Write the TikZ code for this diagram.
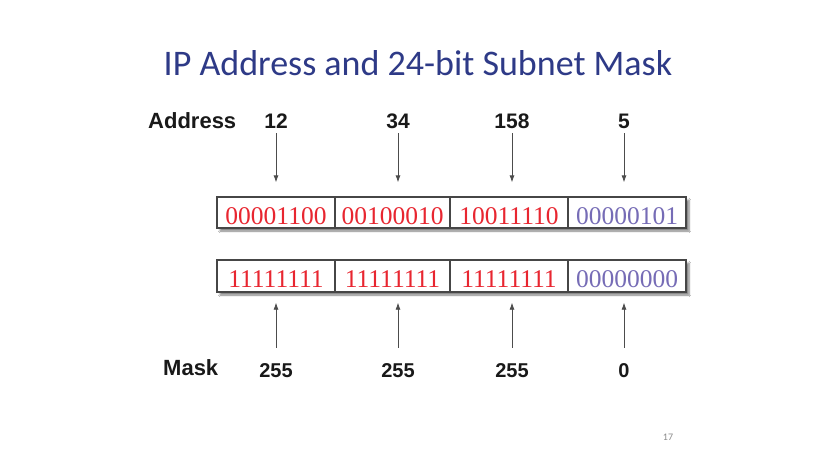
\documentclass[tikz,border=0pt]{standalone}
\usepackage{fontspec}
\setmainfont{Liberation Serif}
\setsansfont{Liberation Sans}
\newfontfamily\titlefont{Carlito}
\usetikzlibrary{arrows.meta,shadows.blur,positioning}
\definecolor{titleblue}{RGB}{46,58,135}
\definecolor{bitred}{RGB}{232,38,48}
\definecolor{bitpurple}{RGB}{118,108,182}
\definecolor{framegray}{RGB}{70,70,70}

\begin{document}
\begin{tikzpicture}[
        x=1pt, y=-1pt,
        tag/.style={font=\sffamily\bfseries\fontsize{22}{24}\selectfont, text=black!90, inner sep=0pt, anchor=base west},
        octet/.style={font=\sffamily\bfseries\fontsize{21}{24}\selectfont, text=black!90, inner sep=0pt, anchor=base},
        rowbox/.style={draw=framegray, line width=1.3pt, fill=white, minimum width=469pt, inner sep=0pt,
            blur shadow={shadow xshift=3pt, shadow yshift=-3pt, shadow blur steps=6, shadow opacity=50}},
        cell/.style={draw=framegray, line width=1.3pt, inner sep=0pt, text height=23pt, text depth=0pt,
            font=\fontsize{25.5}{28}\selectfont},
        arrow/.style={-{Latex[length=7pt,width=5pt]}, line width=0.8pt, draw=black!70}
    ]
        \useasboundingbox[fill=white] (0,0) rectangle (838,467);

        % Title
        \node[font=\titlefont\fontsize{36}{40}\selectfont, text=titleblue, anchor=base, inner sep=0pt] (title) at (418,75) {IP Address and 24-bit Subnet Mask};

        % Address octets
        \node[tag] (addr) at (148,128) {Address};
        \node[octet] (a1) at (276,128) {12};
        \node[octet] (a2) at (398,128) {34};
        \node[octet] (a3) at (512,128) {158};
        \node[octet] (a4) at (624,128) {5};

        % Address bits
        \node[rowbox, minimum height=31pt] (arow) at (451.5,212.5) {};
        \node[cell, minimum height=31pt, minimum width=118pt, text=bitred] (ab1) at (276,212.5) {00001100};
        \node[cell, minimum height=31pt, minimum width=115pt, text=bitred] (ab2) at (392.5,212.5) {00100010};
        \node[cell, minimum height=31pt, minimum width=118pt, text=bitred] (ab3) at (509,212.5) {10011110};
        \node[cell, minimum height=31pt, minimum width=118pt, text=bitpurple] (ab4) at (627,212.5) {00000101};

        % Mask bits
        \node[rowbox, minimum height=32pt] (mrow) at (451.5,276) {};
        \node[cell, minimum height=32pt, minimum width=118pt, text=bitred] (mb1) at (276,276) {11111111};
        \node[cell, minimum height=32pt, minimum width=115pt, text=bitred] (mb2) at (392.5,276) {11111111};
        \node[cell, minimum height=32pt, minimum width=118pt, text=bitred] (mb3) at (509,276) {11111111};
        \node[cell, minimum height=32pt, minimum width=118pt, text=bitpurple] (mb4) at (627,276) {00000000};

        % Mask octets
        \node[tag] (mask) at (163,375) {Mask};
        \node[octet, font=\sffamily\bfseries\fontsize{20}{24}\selectfont] (m1) at (276,377) {255};
        \node[octet, font=\sffamily\bfseries\fontsize{20}{24}\selectfont] (m2) at (398,377) {255};
        \node[octet, font=\sffamily\bfseries\fontsize{20}{24}\selectfont] (m3) at (512,377) {255};
        \node[octet, font=\sffamily\bfseries\fontsize{20}{24}\selectfont] (m4) at (624,377) {0};

        % Connections
        \draw[arrow, shorten <=5pt, shorten >=14pt] (a1.south) -- (a1.south |- ab1.north);
        \draw[arrow, shorten <=5pt, shorten >=14pt] (a2.south) -- (a2.south |- ab2.north);
        \draw[arrow, shorten <=5pt, shorten >=14pt] (a3.south) -- (a3.south |- ab3.north);
        \draw[arrow, shorten <=5pt, shorten >=14pt] (a4.south) -- (a4.south |- ab4.north);

        \draw[arrow, shorten <=15pt, shorten >=10pt] (m1.north) -- (m1.north |- mb1.south);
        \draw[arrow, shorten <=15pt, shorten >=10pt] (m2.north) -- (m2.north |- mb2.south);
        \draw[arrow, shorten <=15pt, shorten >=10pt] (m3.north) -- (m3.north |- mb3.south);
        \draw[arrow, shorten <=15pt, shorten >=10pt] (m4.north) -- (m4.north |- mb4.south);

        % Slide number
        \node[font=\titlefont\fontsize{10}{12}\selectfont, text=black!45] (page) at (668,437) {17};
    \end{tikzpicture}
\end{document}
